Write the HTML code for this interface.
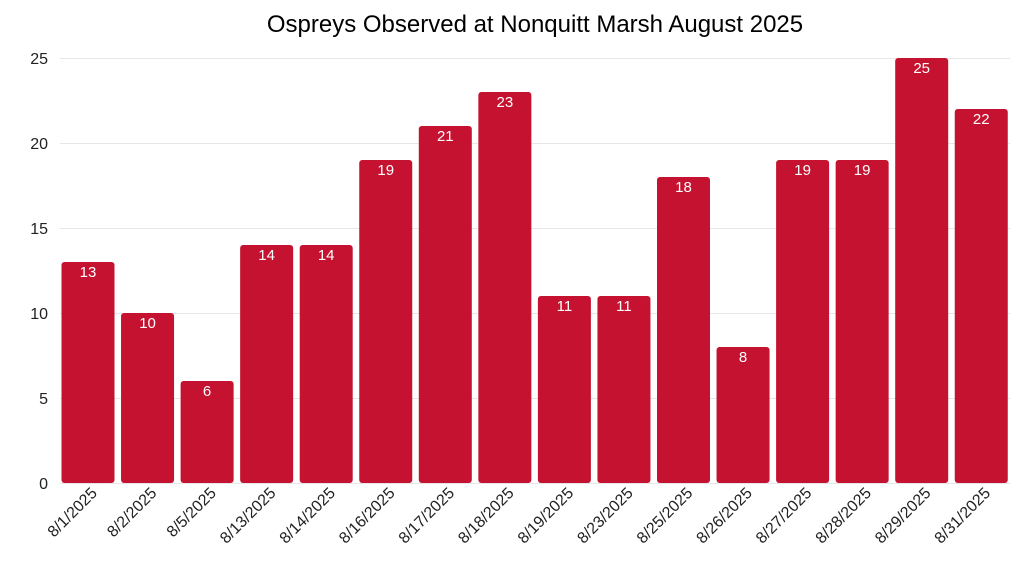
<!DOCTYPE html>
<html><head><meta charset="utf-8"><style>body{margin:0;background:#fff}svg{display:block}text{font-family:"Liberation Sans",sans-serif}</style></head><body>
<svg width="1024" height="576" viewBox="0 0 1024 576">
<text x="535" y="32" font-size="24" text-anchor="middle" fill="#000">Ospreys Observed at Nonquitt Marsh August 2025</text>
<g stroke="#e6e6e6" stroke-width="1">
<line x1="60" x2="1010" y1="58.5" y2="58.5"/><line x1="60" x2="1010" y1="143.5" y2="143.5"/><line x1="60" x2="1010" y1="228.5" y2="228.5"/><line x1="60" x2="1010" y1="313.5" y2="313.5"/><line x1="60" x2="1010" y1="398.5" y2="398.5"/><line x1="60" x2="1010" y1="483.5" y2="483.5"/>
</g>
<g font-size="16" fill="#222" text-anchor="end">
<text x="48" y="64">25</text><text x="48" y="149">20</text><text x="48" y="234">15</text><text x="48" y="319">10</text><text x="48" y="404">5</text><text x="48" y="489">0</text>
</g>
<g fill="#C41230">
<rect x="61.5" y="262" width="53" height="221" rx="3"/>
<rect x="121.05" y="313" width="53" height="170" rx="3"/>
<rect x="180.6" y="381" width="53" height="102" rx="3"/>
<rect x="240.15" y="245" width="53" height="238" rx="3"/>
<rect x="299.7" y="245" width="53" height="238" rx="3"/>
<rect x="359.25" y="160" width="53" height="323" rx="3"/>
<rect x="418.8" y="126" width="53" height="357" rx="3"/>
<rect x="478.35" y="92" width="53" height="391" rx="3"/>
<rect x="537.9" y="296" width="53" height="187" rx="3"/>
<rect x="597.45" y="296" width="53" height="187" rx="3"/>
<rect x="657" y="177" width="53" height="306" rx="3"/>
<rect x="716.55" y="347" width="53" height="136" rx="3"/>
<rect x="776.1" y="160" width="53" height="323" rx="3"/>
<rect x="835.65" y="160" width="53" height="323" rx="3"/>
<rect x="895.2" y="58" width="53" height="425" rx="3"/>
<rect x="954.75" y="109" width="53" height="374" rx="3"/>
</g>
<g font-size="15" fill="#fff" text-anchor="middle">
<text x="88" y="277">13</text><text x="147.55" y="328">10</text><text x="207.1" y="396">6</text><text x="266.65" y="260">14</text><text x="326.2" y="260">14</text><text x="385.75" y="175">19</text><text x="445.3" y="141">21</text><text x="504.85" y="107">23</text><text x="564.4" y="311">11</text><text x="623.95" y="311">11</text><text x="683.5" y="192">18</text><text x="743.05" y="362">8</text><text x="802.6" y="175">19</text><text x="862.15" y="175">19</text><text x="921.7" y="73">25</text><text x="981.25" y="124">22</text>
</g>
<g font-size="16" fill="#222" text-anchor="end">
<text transform="translate(98,494) rotate(-45)">8/1/2025</text>
<text transform="translate(157.55,494) rotate(-45)">8/2/2025</text>
<text transform="translate(217.1,494) rotate(-45)">8/5/2025</text>
<text transform="translate(276.65,494) rotate(-45)">8/13/2025</text>
<text transform="translate(336.2,494) rotate(-45)">8/14/2025</text>
<text transform="translate(395.75,494) rotate(-45)">8/16/2025</text>
<text transform="translate(455.3,494) rotate(-45)">8/17/2025</text>
<text transform="translate(514.85,494) rotate(-45)">8/18/2025</text>
<text transform="translate(574.4,494) rotate(-45)">8/19/2025</text>
<text transform="translate(633.95,494) rotate(-45)">8/23/2025</text>
<text transform="translate(693.5,494) rotate(-45)">8/25/2025</text>
<text transform="translate(753.05,494) rotate(-45)">8/26/2025</text>
<text transform="translate(812.6,494) rotate(-45)">8/27/2025</text>
<text transform="translate(872.15,494) rotate(-45)">8/28/2025</text>
<text transform="translate(931.7,494) rotate(-45)">8/29/2025</text>
<text transform="translate(991.25,494) rotate(-45)">8/31/2025</text>
</g>
</svg>
</body></html>
